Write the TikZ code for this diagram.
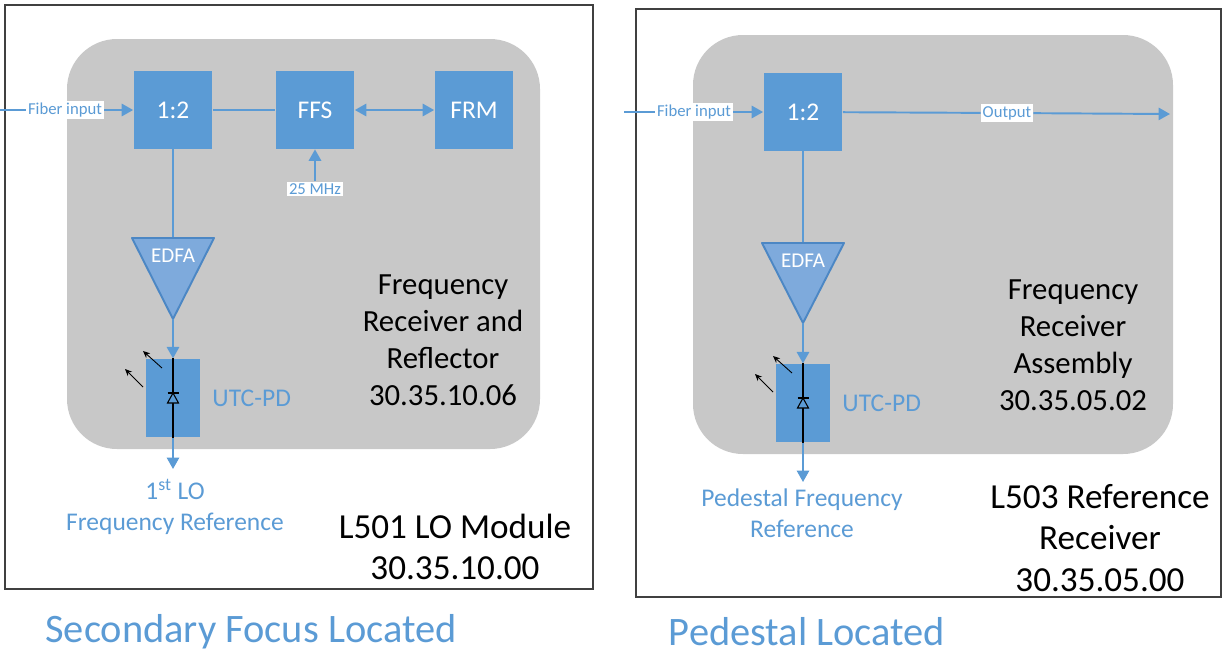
\documentclass[tikz,border=0pt]{standalone}
\usepackage{fontspec}
\setmainfont{Carlito}
\usetikzlibrary{arrows.meta, positioning}
\definecolor{boxBlue}{HTML}{5B9BD5}
\definecolor{ampBlue}{HTML}{7EAADC}
\definecolor{ampEdge}{HTML}{4C87C4}
\definecolor{panelGray}{HTML}{C8C8C8}
\definecolor{frameGray}{HTML}{404040}

% photodiode symbol and light arrows inside a PD box
\newcommand{\pddiode}[1]{%
  \draw[line width=1.2pt] (#1.north) -- (#1.south);
  \draw[line width=0.6pt, fill=boxBlue] ([shift={(0,-5)}]#1.center) -- ([shift={(-5.5,5)}]#1.center) -- ([shift={(5.5,5)}]#1.center) -- cycle;
  \draw[line width=0.6pt] ([shift={(-5.5,-5)}]#1.center) -- ([shift={(5.5,-5)}]#1.center);
  \draw[light] ([shift={(-11,-30)}]#1.center) -- ([shift={(-30,-47)}]#1.center);
  \draw[light] ([shift={(-30,-11)}]#1.center) -- ([shift={(-48,-29)}]#1.center);
}

\tikzset{
  blk/.style={fill=boxBlue, text=white, minimum width=1.58cm, minimum height=1.56cm, inner sep=0pt, font=\fontsize{14.5}{17}\selectfont},
  tag/.style={fill=white, text=boxBlue, inner sep=1pt, font=\fontsize{9.5}{11}\selectfont},
  fiber/.style={draw=boxBlue, line width=1.1pt},
  pdbox/.style={fill=boxBlue, minimum width=1.08cm, minimum height=1.57cm, inner sep=0pt},
  amp/.style={fill=ampBlue, draw=ampEdge, line width=1.1pt, line join=round},
  amptext/.style={text=white, font=\fontsize{12}{14}\selectfont},
  note/.style={text=boxBlue, align=center, inner sep=1pt, font=\fontsize{14.5}{17.6}\selectfont},
  title/.style={align=center, font=\fontsize{17.5}{21}\selectfont},
  module/.style={align=center, font=\fontsize{20}{23.5}\selectfont},
  place/.style={text=boxBlue, inner sep=0pt, font=\fontsize{23}{27}\selectfont},
  light/.style={-{Stealth[length=4pt,width=3.5pt]}, line width=0.5pt},
  frame/.style={draw=frameGray, line width=0.8pt},
}

\begin{document}
\begin{tikzpicture}[x=0.02cm,y=-0.02cm,>={Triangle[length=6.5pt,width=7pt]}]
\useasboundingbox (0,0) rectangle (1225,654);

% outer frames and grey panels
\draw[frame] (5,5) rectangle (593,589);
\draw[frame] (636,9) rectangle (1221,597);
\fill[panelGray, rounded corners=1cm] (67,39) rectangle (540,449);
\fill[panelGray, rounded corners=1cm] (693,35) rectangle (1173,454);

% ---- L501 LO module
\node[blk] (splitL) at (173,110) {1:2};
\node[blk] (ffs) at (315,110) {FFS};
\node[blk] (frm) at (474,110) {FRM};
\coordinate (inL) at (0,110);
\node[tag] (fibL) at (65,110) {Fiber input};
\draw[fiber] (inL) -- (fibL);
\draw[fiber,->] (fibL) -- (splitL);
\draw[fiber] (splitL) -- (ffs);
\draw[fiber,<->] (ffs) -- (frm);
\node[tag] (ref25) at (315,189) {25 MHz};
\draw[fiber,->] (ref25) -- (ffs);

\coordinate (ampL) at (173,238);
\coordinate (ampLout) at (173,319);
\draw[fiber] (splitL) -- (ampL);
\draw[amp] (132,238) -- (214,238) -- (ampLout) -- cycle;
\node[amptext] (edfaL) at (173,256) {EDFA};

\node[pdbox] (pdL) at (173,398) {};
\draw[fiber,->] (ampLout) -- (pdL);
\pddiode{pdL}
\node[note, right=0.2cm of pdL] (utcL) {UTC-PD};
\coordinate (loL) at (173,469);
\draw[fiber,->] (pdL) -- (loL);
\node[note] (loTxt) at (175,507) {1\textsuperscript{st} LO\\Frequency Reference};

\node[title] (frrL) at (443,340) {Frequency\\Receiver and\\Reflector\\30.35.10.06};
\node[module] (modL) at (455,547) {L501 LO Module\\30.35.10.00};
\node[place] (locL) at (251,632) {Secondary Focus Located};

% ---- L503 reference receiver
\node[blk] (splitR) at (803,112) {1:2};
\coordinate (inR) at (624,112);
\node[tag] (fibR) at (694,112) {Fiber input};
\draw[fiber] (inR) -- (fibR);
\draw[fiber,->] (fibR) -- (splitR);
\node[tag] (outTxt) at (1007,113) {Output};
\coordinate (outR) at (1170,114);
\draw[fiber] (splitR) -- (outTxt);
\draw[fiber,->] (outTxt) -- (outR);

\coordinate (ampR) at (803,243);
\coordinate (ampRout) at (803,323);
\draw[fiber] (splitR) -- (ampR);
\draw[amp] (762,243) -- (844,243) -- (ampRout) -- cycle;
\node[amptext] (edfaR) at (803,261) {EDFA};

\node[pdbox] (pdR) at (803,403) {};
\draw[fiber,->] (ampRout) -- (pdR);
\pddiode{pdR}
\node[note, right=0.2cm of pdR] (utcR) {UTC-PD};
\coordinate (pedR) at (803,482);
\draw[fiber,->] (pdR) -- (pedR);
\node[note] (pedTxt) at (802,513) {Pedestal Frequency\\Reference};

\node[title] (fraR) at (1073,345) {Frequency\\Receiver\\Assembly\\30.35.05.02};
\node[module] (modR) at (1100,538) {L503 Reference\\Receiver\\30.35.05.00};
\node[place] (locR) at (807,632) {Pedestal Located};
\end{tikzpicture}
\end{document}
